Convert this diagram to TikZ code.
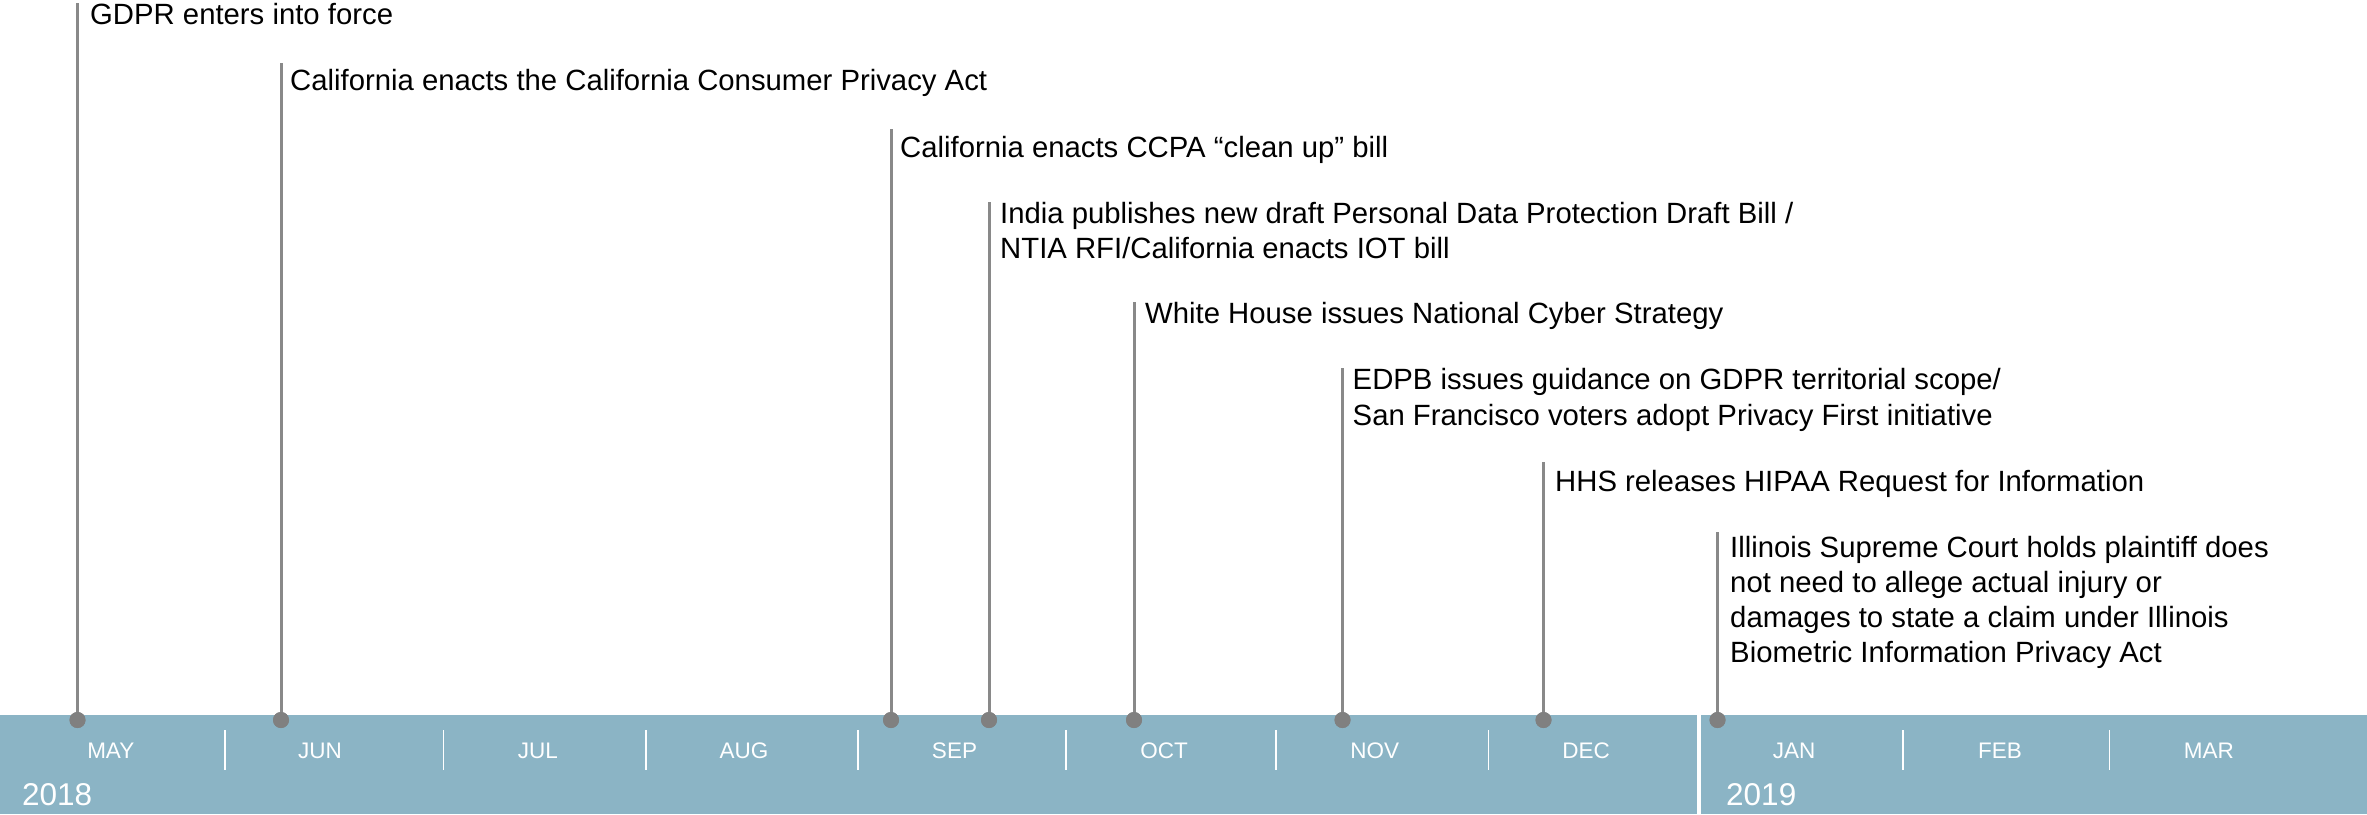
\documentclass[tikz,border=0pt]{standalone}
\usepackage{fontspec}
\setmainfont{Liberation Sans}
\definecolor{barblue}{RGB}{139,180,197}
\definecolor{stemgray}{RGB}{137,137,137}
\definecolor{dotgray}{RGB}{128,128,128}
\begin{document}
\begin{tikzpicture}[x=1pt,y=-1pt,
  evt/.style={anchor=base west, inner sep=0pt, align=left, font=\fontsize{29.3}{35.1}\selectfont, text=black},
  mon/.style={anchor=base, inner sep=0pt, font=\fontsize{22.5}{27}\selectfont, text=white},
  yr/.style={anchor=base west, inner sep=0pt, font=\fontsize{31.5}{36}\selectfont, text=white},
  stem/.style={draw=stemgray, line width=3pt},
  evdot/.style={circle, fill=dotgray, minimum size=16pt, inner sep=0pt},
  msep/.style={draw=white, line width=1.5pt},
  ysep/.style={draw=white, line width=4pt},
]
\useasboundingbox (0,0) rectangle (2367,814);
% bar
\fill[barblue] (0,715) rectangle (2367,814);
% month separators
\foreach \sx [count=\i] in {225,443.7,645.8,858,1066,1276,1488.3,1903,2109.5}
  \draw[msep] (\sx,730) -- (\sx,770);
\draw[ysep] (1699,715) -- (1699,814);
% month labels
\foreach \m/\mx in {MAY/110.8,JUN/320,JUL/538,AUG/744,SEP/954.5,OCT/1164,NOV/1374.7,DEC/1586,JAN/1794,FEB/2000,MAR/2208.8}
  \node[mon] (m\m) at (\mx,758.3) {\m};
\node[yr] (y2018) at (22,805) {2018};
\node[yr] (y2019) at (1726,805) {2019};
% stem tops
\coordinate (s1) at (77.5,3);
\coordinate (s2) at (281,63);
\coordinate (s3) at (891,129);
\coordinate (s4) at (989,202);
\coordinate (s5) at (1134,302);
\coordinate (s6) at (1342.5,368);
\coordinate (s7) at (1543.5,462);
\coordinate (s8) at (1717.5,532);
% dots
\node[evdot] (d1) at (77.5,720) {};
\node[evdot] (d2) at (281,720) {};
\node[evdot] (d3) at (891,720) {};
\node[evdot] (d4) at (989,720) {};
\node[evdot] (d5) at (1134,720) {};
\node[evdot] (d6) at (1342.5,720) {};
\node[evdot] (d7) at (1543.5,720) {};
\node[evdot] (d8) at (1717.5,720) {};
\foreach \k in {1,...,8}
  \draw[stem] (s\k) -- (d\k.center);
\foreach \k in {1,...,8}
  \node[evdot] at (d\k) {};
% texts (base anchor = baseline of last line)
\node[evt] (t1) at (90,24) {GDPR enters into force};
\node[evt] (t2) at (290,90) {California enacts the California Consumer Privacy Act};
\node[evt] (t3) at (900,157) {California enacts CCPA “clean up” bill};
\node[evt] (t4) at (1000,258.3) {India publishes new draft Personal Data Protection Draft Bill /\\NTIA RFI/California enacts IOT bill};
\node[evt] (t5) at (1145,323) {White House issues National Cyber Strategy};
\node[evt] (t6) at (1352.5,425) {EDPB issues guidance on GDPR territorial scope/\\San Francisco voters adopt Privacy First initiative};
\node[evt] (t7) at (1555,491) {HHS releases HIPAA Request for Information};
\node[evt] (t8) at (1730,662.7) {Illinois Supreme Court holds plaintiff does\\not need to allege actual injury or\\damages to state a claim under Illinois\\Biometric Information Privacy Act};
\end{tikzpicture}
\end{document}
